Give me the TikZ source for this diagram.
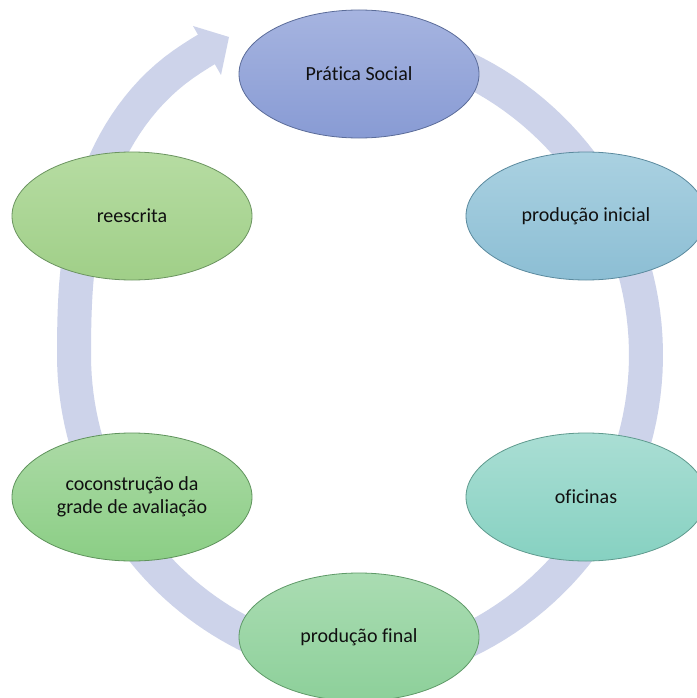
\documentclass[tikz,border=0pt]{standalone}
\usepackage{fontspec}
\setmainfont[Ligatures=NoCommon]{Carlito}
\usetikzlibrary{shapes.geometric}

\definecolor{ringcol}{HTML}{CDD3EA}
\definecolor{txt}{HTML}{101010}
\definecolor{psT}{HTML}{A6B4E0}\definecolor{psB}{HTML}{889BD4}\definecolor{psD}{HTML}{5B6C99}
\definecolor{piT}{HTML}{AAD1E1}\definecolor{piB}{HTML}{8CBED4}\definecolor{piD}{HTML}{5B8A9E}
\definecolor{ofT}{HTML}{AADED4}\definecolor{ofB}{HTML}{86D1C1}\definecolor{ofD}{HTML}{5F9A8E}
\definecolor{pfT}{HTML}{AADCB2}\definecolor{pfB}{HTML}{8DD09A}\definecolor{pfD}{HTML}{5F9A68}
\definecolor{cgT}{HTML}{ACDAA6}\definecolor{cgB}{HTML}{8BCE85}\definecolor{cgD}{HTML}{5F935C}
\definecolor{reT}{HTML}{B6DCA2}\definecolor{reB}{HTML}{A0CF88}\definecolor{reD}{HTML}{6B9460}

\begin{document}
\begin{tikzpicture}[x=1pt,y=-1pt,
  stage/.style={ellipse, minimum width=240pt, minimum height=128pt,
    inner sep=0pt, line width=0.8pt, align=center, text=txt,
    font=\fontsize{20}{23}\selectfont},
  cycleband/.style={draw=ringcol, line width=34pt, line join=round},
  declare function={
    bandramp(\a)=min(1,max(0,(-180-\a)/55));
    bandrad(\a)=313+42*(3*bandramp(\a)^2-2*bandramp(\a)^3);
  },
]
\useasboundingbox (0,0) rectangle (696,698);
\fill[white] (0,0) rectangle (696,698);

% circular arrow, clockwise: right half on one circle, left half widening
% towards the arrow head
\draw[cycleband]
  plot[domain=88:-79.3, samples=80, variable=\t]
    ({328+318*cos(\t)}, {355-318*sin(\t)})
  -- plot[domain=-90:-240, samples=90, variable=\t]
    ({387+bandrad(\t)*cos(\t)}, {355-bandrad(\t)*sin(\t)});
\coordinate (tipback1) at (193,26);
\coordinate (tip) at (229,37);
\coordinate (tipback2) at (221,75);
\fill[ringcol] (tipback1) -- (tip) -- (tipback2) -- cycle;

% stages
\node[stage, top color=psT, bottom color=psB, draw=psD] (ps) at (359,74) {Prática Social};
\node[stage, top color=piT, bottom color=piB, draw=piD] (pi) at (586,216) {produção inicial};
\node[stage, top color=ofT, bottom color=ofB, draw=ofD] (of) at (586,497) {oficinas};
\node[stage, top color=pfT, bottom color=pfB, draw=pfD] (pf) at (359,637) {produção final};
\node[stage, top color=cgT, bottom color=cgB, draw=cgD] (cg) at (132,497) {coconstrução da\\grade de avaliação};
\node[stage, top color=reT, bottom color=reB, draw=reD] (re) at (132,216) {reescrita};
\end{tikzpicture}
\end{document}
